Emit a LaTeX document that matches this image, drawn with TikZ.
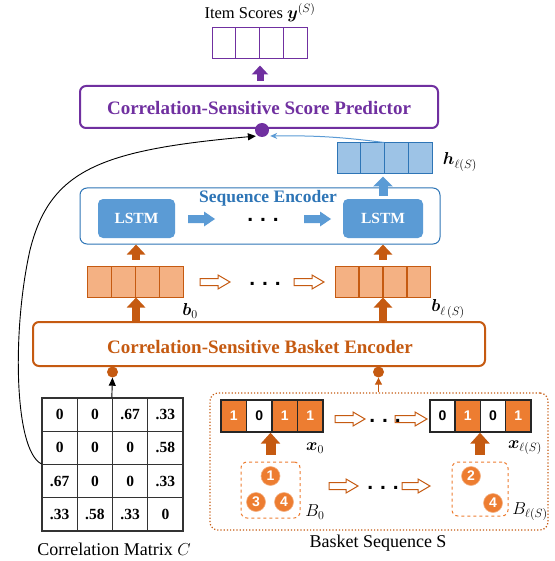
\documentclass[tikz,border=0pt]{standalone}
\usepackage{amsmath}
\usepackage{bm}
\usepackage{fontspec}
\setmainfont{Liberation Serif}
\newfontfamily\digitfont{Liberation Sans}
\usetikzlibrary{arrows.meta,calc}

\definecolor{pur}{HTML}{7030A0}
\definecolor{ora}{HTML}{C55A11}
\definecolor{orl}{HTML}{F4B183}
\definecolor{orm}{HTML}{ED7D31}
\definecolor{blu}{HTML}{2E75B6}
\definecolor{blm}{HTML}{5B9BD5}
\definecolor{bll}{HTML}{9DC3E6}

\newcommand{\fs}[1]{\fontsize{#1}{#1}\selectfont}

\tikzset{
  cell/.style={draw, inner sep=0pt, minimum height=31pt, line width=1pt},
  ycell/.style={cell, draw=pur, minimum width=23.75pt},
  hcell/.style={cell, draw=blu, fill=bll, minimum width=23.75pt},
  bcell/.style={cell, draw=ora, fill=orl, minimum width=23.9pt},
  xon/.style={cell, draw=black!85, line width=1.4pt, fill=orm, text=white, minimum width=25.4pt, minimum height=32pt, font=\digitfont\bfseries\fs{14}},
  xoff/.style={xon, fill=white, text=black},
  mcell/.style={draw=black!80, line width=1.4pt, inner sep=0pt, minimum width=35.25pt, minimum height=33.25pt, font=\bfseries\fs{15.5}},
  bigbox/.style={draw, rounded corners=6pt, line width=2pt, inner sep=0pt},
  boxtitle/.style={font=\bfseries\fs{19}, inner sep=0pt},
  lstmbox/.style={fill=blm, rounded corners=5pt, text=white, font=\bfseries\fs{15.5}, minimum height=39pt, inner sep=0pt},
  % right-pointing block arrow: length / shaft width / head width / head length
  pics/blockarrow/.style n args={4}{code={
    \path[pic actions] ({-#1/2},{-#2/2}) -- ({#1/2-#4},{-#2/2}) -- ({#1/2-#4},{-#3/2})
      -- ({#1/2},0) -- ({#1/2-#4},{#3/2}) -- ({#1/2-#4},{#2/2}) -- ({-#1/2},{#2/2}) -- cycle;
  }},
  hollow/.style={draw=ora, fill=white, line width=1pt},
  bluefill/.style={fill=blm},
  fatarrow/.style={line width=8pt, -{Triangle[width=18pt,length=10pt]}},
  itemdot/.style={circle, fill=orm, draw=orm!60!white, line width=0.6pt, minimum size=19pt, inner sep=0pt, text=white, font=\digitfont\bfseries\fs{14}},
  basketbox/.style={draw=orm, dashed, line width=1pt, rounded corners=6pt, inner sep=0pt},
  dots/.style={font=\digitfont\bfseries\fs{21}, inner sep=0pt},
  lbl/.style={font=\fs{16.5}, inner sep=0pt},
  mlbl/.style={font=\fs{17}, inner sep=0pt},
}

\begin{document}
\begin{tikzpicture}[x=1pt, y=-1pt]
\useasboundingbox (0,0) rectangle (554,561);

% ---------- output scores ----------
\node[lbl] (ylab) at (260,13) {Item Scores $\bm{y}^{(S)}$};
\foreach \i in {1,...,4}
  \node[ycell] (y\i) at ({212+(\i-0.5)*23.75},43.5) {};

\node[bigbox, draw=pur, minimum width=358pt, minimum height=42pt] (pred) at (259,107) {};
\node[boxtitle, text=pur] (predlab) at (259,108) {Correlation-Sensitive Score Predictor};
\draw[pur, line width=7pt, -{Triangle[width=16pt,length=9pt]}, shorten <=4pt, shorten >=6pt]
  (pred.north -| y2.south east) -- (y2.south east);
\node[circle, fill=pur, minimum size=14pt, inner sep=0pt] (pdot) at (262,130) {};

% ---------- final hidden state ----------
\foreach \i in {1,...,4}
  \node[hcell] (h\i) at ({337+(\i-0.5)*23.75},158.5) {};
\node[mlbl] (hlab) at (460,162) {$\bm{h}_{\ell(S)}$};
\draw[blm, line width=1pt, -{Stealth[length=7pt,width=6pt]}] (h3.north west) to[bend right=4] ($(pdot.east)+(1,6)$);

% ---------- sequence encoder ----------
\node[draw=blu, line width=1pt, rounded corners=7pt, minimum width=360pt, minimum height=56pt, inner sep=0pt] (seq) at (260,216) {};
\node[font=\bfseries\fs{17.5}, text=blu, inner sep=0pt] (seqlab) at (268,198) {Sequence Encoder};
\node[lstmbox, minimum width=77pt] (l1) at (136.5,218.5) {LSTM};
\node[lstmbox, minimum width=80pt] (l2) at (383,218.5) {LSTM};
\pic[bluefill] (ba1) at (201.5,219) {blockarrow={27}{8}{15}{11}};
\pic[bluefill] (ba2) at (317.5,219) {blockarrow={27}{8}{15}{11}};
\node[dots] (sdots) at (263,220) {.\,\,.\,\,.};
\draw[blm, line width=9pt, -{Triangle[width=19pt,length=10pt]}, shorten <=3pt, shorten >=2pt]
  (l2.north) -- (l2.north |- h2.south);

% ---------- basket embeddings ----------
\foreach \i in {1,...,4}
  \node[bcell] (b\i) at ({88+(\i-0.5)*23.75},281.5) {};
\foreach \i in {1,...,4}
  \node[bcell] (c\i) at ({335+(\i-0.5)*24},281.5) {};
\node[mlbl] (blab) at (190,311) {$\bm{b}_{0}$};
\node[mlbl] (clab) at (448,309) {$\bm{b}_{\ell\,(S)}$};
\pic[hollow] (ha1) at (215,282) {blockarrow={30}{7}{14}{12}};
\pic[hollow] (ha2) at (309,282) {blockarrow={30}{7}{14}{12}};
\node[dots] (bdots) at (265,284) {.\,\,.\,\,.};
\draw[ora, fatarrow, shorten <=6pt] (b2.north east) -- (b2.north east |- seq.south);
\draw[ora, fatarrow, shorten <=6pt] (l2.south |- c2.north) -- (l2.south |- seq.south);

% ---------- basket encoder ----------
\node[bigbox, draw=ora, minimum width=452pt, minimum height=44pt] (enc) at (259,344) {};
\node[boxtitle, text=ora] (enclab) at (260,347) {Correlation-Sensitive Basket Encoder};
\draw[ora, fatarrow] (enc.north -| b2.south east) -- (b2.south east);
\draw[ora, fatarrow] (enc.north -| l2.south) -- (l2.south |- c2.south);
\node[circle, fill=ora, minimum size=11pt, inner sep=0pt] (edot1) at (112.5,372) {};
\node[circle, fill=ora, minimum size=11pt, inner sep=0pt] (edot2) at (378.5,372) {};

% ---------- correlation matrix ----------
\foreach \r/\row in {1/{0,0,.67,.33}, 2/{0,0,0,.58}, 3/{.67,0,0,.33}, 4/{.33,.58,.33,0}} {
  \foreach \v [count=\c] in \row
    \node[mcell] (m-\r-\c) at ({42+(\c-0.5)*35.25},{398+(\r-0.5)*33.25}) {\v};
}
\node[font=\fs{18}, inner sep=0pt] (mlab) at (114,549) {Correlation Matrix $C$};
\draw[black, line width=0.9pt, -{Triangle[length=8pt,width=7pt]}] (m-1-3.north west) -- (edot1.south);
\draw[black, line width=0.9pt, -{Triangle[length=8pt,width=7pt]}]
  (m-3-1.north west) .. controls (14,450) and (12,330) .. (30,250)
  .. controls (50,170) and (100,150) .. ($(pdot.south west)+(-1,1)$);

% ---------- basket sequence ----------
\node[draw=ora, dotted, line width=1.2pt, rounded corners=8pt, minimum width=338pt, minimum height=137pt, inner sep=0pt] (bseq) at (379,461.5) {};
\draw[ora, line width=1pt, -{Triangle[length=7pt,width=7pt]}] (bseq.north -| edot2) -- (edot2.south);

\foreach \v [count=\c] in {1,0,1,1} {
  \ifnum\v=1 \node[xon] (x\c) at ({221+(\c-0.5)*25.5},416) {1};
  \else \node[xoff] (x\c) at ({221+(\c-0.5)*25.5},416) {0}; \fi
}
\foreach \v [count=\c] in {0,1,0,1} {
  \ifnum\v=1 \node[xon] (z\c) at ({430+(\c-0.5)*25.25},416) {1};
  \else \node[xoff] (z\c) at ({430+(\c-0.5)*25.25},416) {0}; \fi
}
\node[mlbl] (xlab) at (315,448) {$\bm{x}_{0}$};
\node[mlbl] (zlab) at (525,448) {$\bm{x}_{\ell(S)}$};
\pic[hollow] (xa1) at (350,419) {blockarrow={30}{7}{14}{12}};
\pic[hollow] (xa2) at (411,419) {blockarrow={32}{7}{14}{12}};
\node[dots] (xdots) at (385,421) {.\,\,.\,\,.};

\node[basketbox, minimum width=59pt, minimum height=56pt] (B0) at (270.5,490) {};
\node[basketbox, minimum width=56pt, minimum height=54pt] (BL) at (480,489) {};
\node[itemdot] (i1) at (270.5,476) {1};
\node[itemdot] (i3) at (256,502) {3};
\node[itemdot] (i4) at (284,502) {4};
\node[itemdot] (j2) at (471,476) {2};
\node[itemdot] (j4) at (493,503) {4};
\node[mlbl] (B0lab) at (315,512) {$B_{0}$};
\node[mlbl] (BLlab) at (530,512) {$B_{\ell(S)}$};
\draw[ora, line width=10pt, -{Triangle[width=19pt,length=11pt]}, shorten <=7pt] (B0.north) -- (B0.north |- x2.south);
\draw[ora, line width=10pt, -{Triangle[width=19pt,length=11pt]}, shorten <=7pt] (BL.north) -- (BL.north |- z2.south);
\pic[hollow] (ya1) at (343.5,486) {blockarrow={29}{7}{14}{12}};
\pic[hollow] (ya2) at (416,486) {blockarrow={28}{7}{14}{12}};
\node[dots] (ydots) at (383,488) {.\,\,.\,\,.};
\node[font=\fs{18}, inner sep=0pt] (slab) at (378,543) {Basket Sequence S};

\end{tikzpicture}
\end{document}
